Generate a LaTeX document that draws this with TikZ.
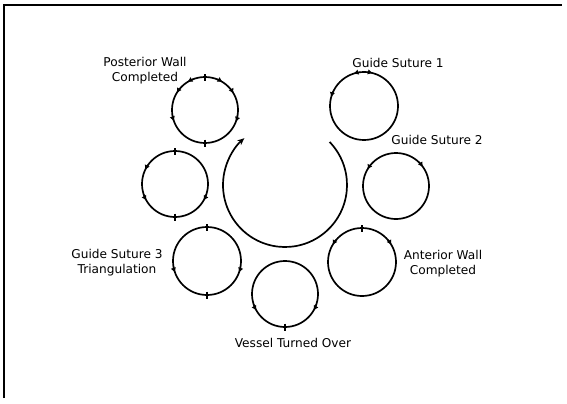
\documentclass[tikz,border=0pt]{standalone}
\usepackage{fontspec}
\setmainfont{DejaVu Sans}
\usetikzlibrary{arrows.meta}
\tikzset{
  x=1bp,y=1bp,
  ring/.style={line width=1.7pt,black},
  lab/.style={font=\fontsize{12.2}{15}\selectfont,align=center,inner sep=0pt},
  bigarc/.style={line width=1.7pt,-{Stealth[length=7pt,width=6pt]}},
  tip/.style={line width=1.2pt,-{Latex[length=5pt,width=5.5pt]}},
  tick/.style={line width=1.3pt}
}
% \tipat{center}{radius}{angle}{+1 ccw / -1 cw}
\newcommand\tipat[4]{\draw[tip] ([shift={({#3-(#4)*12}:#2)}]#1) arc[start angle={#3-(#4)*12},end angle=#3,radius=#2];}
\newcommand\tickat[3]{\draw[tick] ([shift={(#3:#2-3.5)}]#1) -- ([shift={(#3:#2+3.5)}]#1);}
\begin{document}
\begin{tikzpicture}
\useasboundingbox (0,0) rectangle (567,403);
% frame
\coordinate (fTL) at (4,398);
\coordinate (fTR) at (562,398);
\coordinate (fBL) at (4,5);
\draw[line width=1.2pt] (fBL) -- (fTL) -- (fTR);
% centers
\coordinate (P) at (205,293);
\coordinate (G1) at (364,297);
\coordinate (L) at (175,219);
\coordinate (G2) at (396,217);
\coordinate (G3) at (207,142);
\coordinate (V) at (285,109);
\coordinate (A) at (362,141);
\coordinate (C) at (285,218);
% rings
\draw[ring] (P) circle[radius=33];
\draw[ring] (G1) circle[radius=34];
\draw[ring] (L) circle[radius=33];
\draw[ring] (G2) circle[radius=33];
\draw[ring] (G3) circle[radius=34];
\draw[ring] (V) circle[radius=33];
\draw[ring] (A) circle[radius=34];
% big arc
\draw[bigarc] ([shift={(44:62)}]C) arc[start angle=44,end angle=-229,radius=62];
% marks: posterior wall
\tickat{P}{33}{90}
\tipat{P}{33}{58}{-1}
\tipat{P}{33}{122}{1}
\tipat{P}{33}{149}{1}
\tipat{P}{33}{30}{-1}
\tipat{P}{33}{200}{1}
\tipat{P}{33}{339}{-1}
\tickat{P}{33}{270}
% guide suture 1
\tipat{G1}{34}{108}{1}
\tipat{G1}{34}{75}{-1}
\tipat{G1}{34}{165}{1}
% guide suture 2
\tipat{G2}{33}{150}{1}
\tipat{G2}{33}{35}{-1}
% left
\tickat{L}{33}{90}
\tipat{L}{33}{155}{1}
\tipat{L}{33}{210}{1}
\tipat{L}{33}{330}{-1}
\tickat{L}{33}{270}
% guide suture 3
\tickat{G3}{34}{90}
\tipat{G3}{34}{200}{1}
\tipat{G3}{34}{340}{-1}
\tickat{G3}{34}{270}
% vessel turned over
\tipat{V}{33}{210}{1}
\tipat{V}{33}{330}{-1}
\tickat{V}{33}{270}
% anterior wall
\tickat{A}{34}{90}
\tipat{A}{34}{150}{1}
\tipat{A}{34}{30}{-1}
% labels
\node[lab] (tP) at (145,332) {Posterior Wall\\Completed};
\node[lab] (tG1) at (398,340) {Guide Suture 1};
\node[lab] (tG2) at (437,263) {Guide Suture 2};
\node[lab] (tG3) at (117,140) {Guide Suture 3\\Triangulation};
\node[lab] (tA) at (443,139) {Anterior Wall\\Completed};
\node[lab] (tV) at (293,60) {Vessel Turned Over};
\end{tikzpicture}
\end{document}
